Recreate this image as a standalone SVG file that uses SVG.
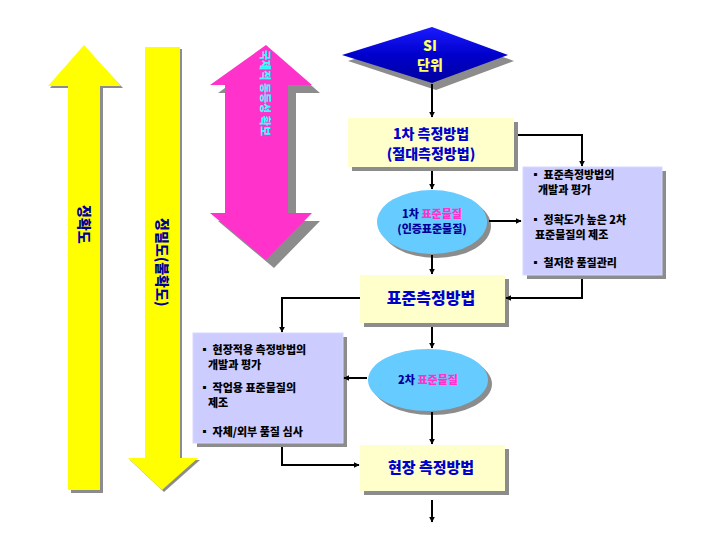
<svg xmlns="http://www.w3.org/2000/svg" width="720" height="540" viewBox="0 0 720 540">
<defs>
<marker id="ah" viewBox="0 0 10 10" refX="9" refY="5" markerWidth="6" markerHeight="6" orient="auto" markerUnits="userSpaceOnUse"><path d="M0,0 L10,5 L0,10 z" fill="#000"/></marker>
<linearGradient id="dg" x1="0" y1="0" x2="0" y2="1"><stop offset="0" stop-color="#1a1aff"/><stop offset="0.5" stop-color="#0000cc"/><stop offset="1" stop-color="#0000a0"/></linearGradient>
</defs>
<style>
text{font-family:"Noto Sans CJK KR","Liberation Sans",sans-serif;font-weight:900}
.sh{fill:#8c8c8c}
.ybox{fill:#ffffcc}
.pbox{fill:#ccccff;stroke:#d8d8ff;stroke-width:1}
.ell{fill:#66ccff}
.bt{fill:#0000cc;text-anchor:middle}
.lt{fill:#000;font-size:11px}
.mg{fill:#ff33cc}
.conn{fill:none;stroke:#000;stroke-width:2;marker-end:url(#ah)}
.vt{fill:#000099;font-size:14px}
</style>
<rect width="720" height="540" fill="#fff"/>

<g id="accuracy-arrow">
<polygon class="sh" points="84,47 123,88 103,88 103,493 71,493 71,88 50,88"/>
<polygon fill="#ffff00" points="84,45 121,86 100,86 100,490 68,490 68,86 48,86"/>
<text class="vt" transform="translate(79,205) rotate(90)">정확도</text>
</g>

<g id="precision-arrow">
<polygon class="sh" points="147,49 182,49 182,460 200,460 164,492 130,460 147,460"/>
<polygon fill="#ffff00" points="145,47 180,47 180,458 198,458 162,490 128,458 145,458"/>
<text class="vt" transform="translate(157,218) rotate(90)">정밀도(불확도)</text>
</g>

<g id="traceability-arrow">
<polygon class="sh" points="274,53 320,93 296,93 296,221 320,221 274,268 218,221 233,221 233,93 218,93"/>
<polygon fill="#ff33cc" points="266,45 312,85 288,85 288,213 312,213 266,260 210,213 225,213 225,85 210,85"/>
<text transform="translate(261,50) rotate(90)" font-size="11" fill="#33ffff">국제적 동등성 확보</text>
</g>

<g id="si">
<polygon class="sh" points="436,33 514,61 436,90 348,61"/>
<polygon fill="url(#dg)" points="432,27 508,55 432,83 342,55"/>
<text x="430" y="51" class="bt" style="fill:#ffff66" font-size="14">SI</text>
<text x="430" y="70" class="bt" style="fill:#ffff66" font-size="14">단위</text>
</g>

<g id="method1">
<rect class="sh" x="352" y="122" width="166" height="49"/>
<rect class="ybox" x="348" y="118" width="166" height="49"/>
<text x="431" y="139" class="bt" font-size="14">1차 측정방법</text>
<text x="431" y="159" class="bt" font-size="14">(절대측정방법)</text>
</g>

<g id="box-right">
<rect class="sh" x="527" y="171" width="139" height="108"/>
<rect class="pbox" x="523" y="167" width="139" height="108"/>
<text x="530" y="179" class="lt">▪ 표준측정방법의</text>
<text x="538" y="194" class="lt">개발과 평가</text>
<text x="530" y="224" class="lt">▪ 정확도가 높은 2차</text>
<text x="535" y="239" class="lt">표준물질의  제조</text>
<text x="530" y="267" class="lt">▪ 철저한 품질관리</text>
</g>

<g id="crm1">
<ellipse class="sh" cx="436" cy="226" rx="55" ry="32"/>
<ellipse class="ell" cx="432" cy="222" rx="55" ry="32"/>
<text x="432" y="218" class="bt" font-size="11"><tspan fill="#000099">1차 </tspan><tspan class="mg">표준물질</tspan></text>
<text x="432" y="233" class="bt" style="fill:#000099" font-size="11">(인증표준물질)</text>
</g>

<g id="method-std">
<rect class="sh" x="364" y="279" width="145" height="48"/>
<rect class="ybox" x="360" y="275" width="145" height="48"/>
<text x="431" y="304" class="bt" font-size="16">표준측정방법</text>
</g>

<g id="box-left">
<rect class="sh" x="197" y="337" width="150" height="110"/>
<rect class="pbox" x="193" y="333" width="150" height="110"/>
<text x="199" y="354" class="lt">▪ 현장적용 측정방법의</text>
<text x="208" y="369" class="lt">개발과 평가</text>
<text x="199" y="392" class="lt">▪ 작업용 표준물질의</text>
<text x="208" y="407" class="lt">제조</text>
<text x="199" y="436" class="lt">▪ 자체/외부 품질 심사</text>
</g>

<g id="crm2">
<ellipse class="sh" cx="432" cy="384" rx="60" ry="31"/>
<ellipse class="ell" cx="428" cy="380" rx="60" ry="31"/>
<text x="428" y="384" class="bt" font-size="11"><tspan fill="#000099">2차 </tspan><tspan class="mg">표준물질</tspan></text>
</g>

<g id="method-field">
<rect class="sh" x="364" y="449" width="145" height="46"/>
<rect class="ybox" x="360" y="445" width="145" height="46"/>
<text x="431" y="473" class="bt" font-size="15">현장 측정방법</text>
</g>

<g id="connectors">
<path class="conn" d="M432,84 V117"/>
<path class="conn" d="M518,135 H582 V166"/>
<path class="conn" d="M432,171 V189"/>
<path class="conn" d="M489,221 H521"/>
<path class="conn" d="M432,255 V274"/>
<path class="conn" d="M582,279 V298 H506"/>
<path class="conn" d="M360,298 H282 V332"/>
<path class="conn" d="M432,327 V348"/>
<path class="conn" d="M367,378 H344"/>
<path class="conn" d="M432,412 V444"/>
<path class="conn" d="M282,447 V465 H359"/>
<path class="conn" d="M432,500 V522"/>
</g>
</svg>
